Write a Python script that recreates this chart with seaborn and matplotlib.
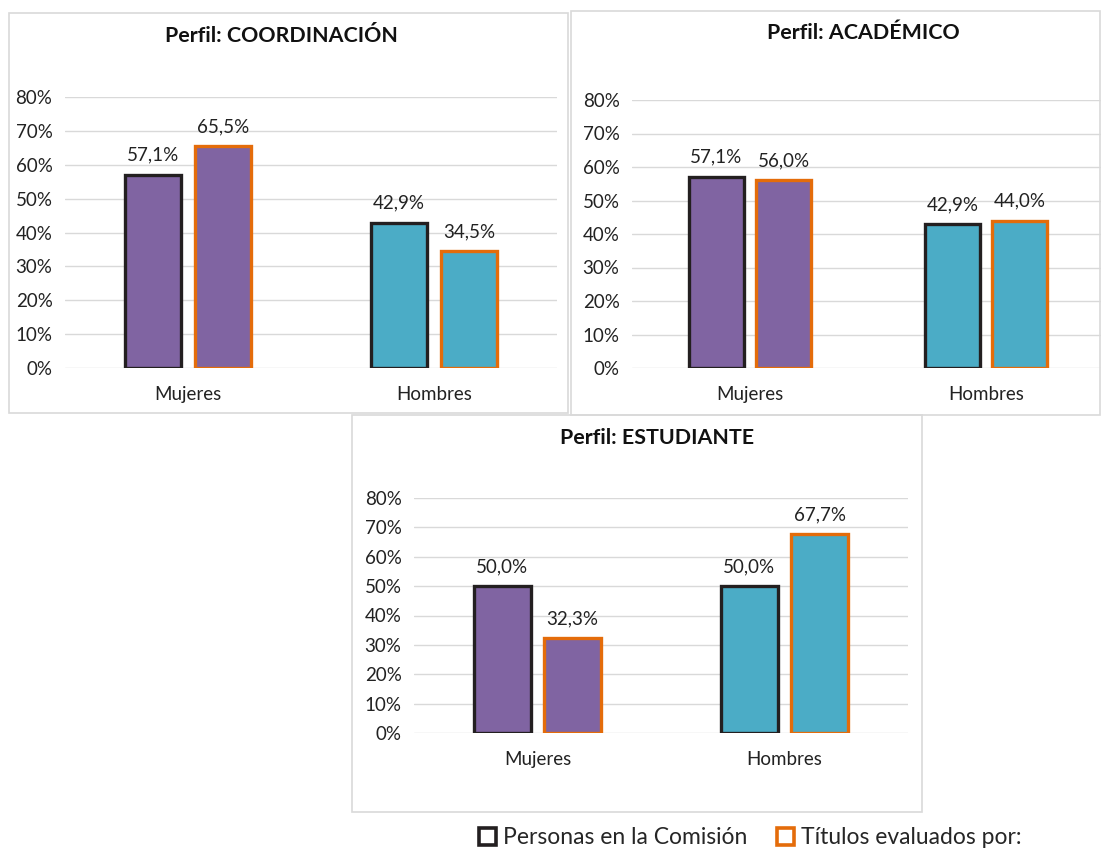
import pandas as pd
import seaborn as sns
import matplotlib.pyplot as plt
from matplotlib.patches import Patch, Rectangle
from matplotlib.ticker import FuncFormatter

sns.set_style("white")
plt.rcParams['font.family'] = ['Lato', 'DejaVu Sans']

categorias = ["Mujeres", "Hombres"]
series = ["Personas en la Comisión", "Títulos evaluados por:"]

coord_personas = [57.1, 42.9]
coord_titulos = [65.5, 34.5]
acad_personas = [57.1, 42.9]
acad_titulos = [56.0, 44.0]
est_personas = [50.0, 50.0]
est_titulos = [32.3, 67.7]

titulos = ["Perfil: COORDINACIÓN", "Perfil: ACADÉMICO", "Perfil: ESTUDIANTE"]
yticks = [0, 10, 20, 30, 40, 50, 60, 70, 80]

color_cat = ["#8064A2", "#4BACC6"]
color_borde = ["#231F20", "#E46C0A"]

W, H = 1101, 852
fig = plt.figure(figsize=(W / 100, H / 100), dpi=100)


def px(x0, y0, x1, y1):
    # caja en pixeles (desde arriba) -> fracciones de figura
    return [x0 / W, 1 - y1 / H, (x1 - x0) / W, (y1 - y0) / H]


# marcos de los paneles
for (x0, y0, x1, y1) in [(9, 13, 568, 413), (571, 11, 1100, 415), (352, 415, 922, 812)]:
    fig.patches.append(Rectangle((x0 / W, 1 - y1 / H), (x1 - x0) / W, (y1 - y0) / H,
                                 transform=fig.transFigure, fill=False,
                                 edgecolor="#D9D9D9", lw=1.2))

paneles = [
    (coord_personas, coord_titulos, px(65, 97, 557, 368), (281, 36)),
    (acad_personas, acad_titulos, px(632, 100, 1104, 368), (863, 33)),
    (est_personas, est_titulos, px(414, 498, 908, 733), (657, 438)),
]

for k, (personas, tit, caja, tpos) in enumerate(paneles):
    ax = fig.add_axes(caja)
    df = pd.DataFrame({
        "sexo": categorias * 2,
        "serie": [series[0]] * 2 + [series[1]] * 2,
        "valor": personas + tit,
    })
    sns.barplot(data=df, x="sexo", y="valor", hue="serie", ax=ax,
                width=0.57, gap=0.19, legend=False)
    for j, cont in enumerate(ax.containers):
        for i, bar in enumerate(cont):
            bar.set_facecolor(color_cat[i])
            bar.set_edgecolor(color_borde[j])
            bar.set_linewidth(2.4)
        ax.bar_label(cont, labels=[f"{v:.1f}%".replace(".", ",") for v in cont.datavalues],
                     padding=8, fontsize=13.5, color="#222222")
    ax.set_ylim(0, 80)
    ax.set_xlim(-0.5, 1.5)
    ax.set_yticks(yticks)
    ax.yaxis.set_major_formatter(FuncFormatter(lambda v, p: f"{v:.0f}%"))
    ax.grid(axis="y", color="#D9D9D9", lw=1)
    ax.set_axisbelow(True)
    for s in ax.spines.values():
        s.set_visible(False)
    ax.tick_params(axis="both", length=0, labelsize=13.5, colors="#222222")
    ax.tick_params(axis="x", pad=13)
    ax.tick_params(axis="y", pad=9)
    ax.set_xlabel("")
    ax.set_ylabel("")
    fig.text(tpos[0] / W, 1 - tpos[1] / H, titulos[k], ha="center", va="center",
             fontsize=15.4, fontweight="bold", color="#111111")

handles = [Patch(facecolor="white", edgecolor=c, lw=2.6) for c in color_borde]
fig.legend(handles, series, loc="center", bbox_to_anchor=(750 / W, 1 - 838 / H),
           ncol=2, frameon=False, fontsize=16.5, handlelength=0.75, handleheight=0.75,
           handletextpad=0.3, columnspacing=1.3)

fig.savefig("out.png", dpi=100, facecolor="white")
